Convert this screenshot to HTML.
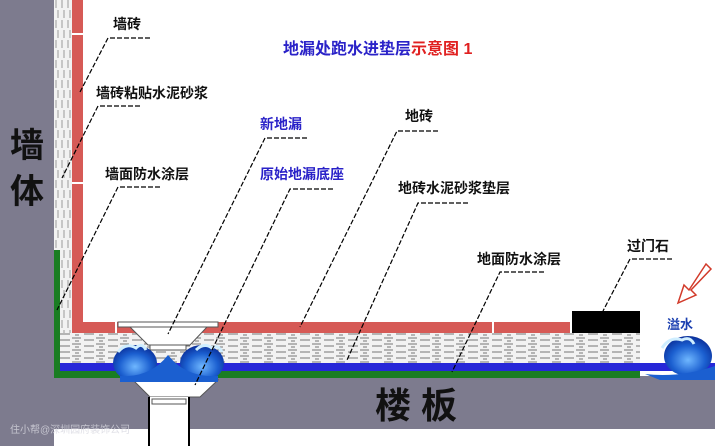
<!DOCTYPE html>
<html><head><meta charset="utf-8"><style>
html,body{margin:0;padding:0;background:#fff;}
svg{display:block}
text{font-family:"Liberation Sans","Noto Sans CJK SC",sans-serif;}
</style></head><body>
<svg width="715" height="446" viewBox="0 0 715 446" xmlns="http://www.w3.org/2000/svg">
<defs>
<pattern id="mort" width="24" height="6" patternUnits="userSpaceOnUse">
<rect width="24" height="6" fill="#f2f2f2"/>
<path d="M0 2 H9 M12 4 H22 M3 5 H7" stroke="#777" stroke-width="1"/>
</pattern>
<pattern id="mortv" width="6" height="20" patternUnits="userSpaceOnUse">
<rect width="6" height="20" fill="#f2f2f2"/>
<path d="M2 0 V8 M4 10 V18" stroke="#999" stroke-width="1"/>
</pattern>
<radialGradient id="wave" cx="0.5" cy="0.6" r="0.6">
<stop offset="0" stop-color="#6fb7ff"/><stop offset="0.6" stop-color="#1b5fd0"/><stop offset="1" stop-color="#0a2f9a"/>
</radialGradient>
</defs>
<rect x="0" y="0" width="54" height="446" fill="#7d7b8e"/>
<rect x="54" y="376" width="661" height="53" fill="#7d7b8e"/>
<rect x="54" y="0" width="18" height="334" fill="url(#mortv)"/>
<rect x="72" y="0" width="11" height="334" fill="#d65a56"/>
<path d="M72 34 H83 M72 183 H83" stroke="#fff" stroke-width="2"/>
<rect x="72" y="322" width="498" height="11" fill="#d65a56"/>
<path d="M116 322 V333 M493 322 V333" stroke="#fff" stroke-width="2"/>
<rect x="59" y="333" width="581" height="30" fill="url(#mort)"/>
<rect x="572" y="311" width="68" height="22" fill="#000"/>
<rect x="59" y="363" width="656" height="8" fill="#2727d8"/>
<rect x="54" y="250" width="6" height="128" fill="#1a7d22"/>
<rect x="54" y="371" width="586" height="7" fill="#1a7d22"/>
<rect x="118" y="322" width="100" height="5" fill="#fff" stroke="#555" stroke-width="1"/>
<polygon points="130,327 207,327 190,345 148,345" fill="#fff" stroke="#555"/>
<rect x="150" y="345" width="36" height="5" fill="#fff" stroke="#555"/>
<polygon points="133,380 218,380 200,397 150,397" fill="#fff" stroke="#555"/>
<rect x="148" y="397" width="42" height="49" fill="#fff"/>
<path d="M149 397 V446 M189 397 V446" stroke="#000" stroke-width="2"/>
<rect x="152" y="399" width="34" height="5" fill="#fff" stroke="#555"/>
<ellipse cx="135" cy="363" rx="22" ry="18" fill="url(#wave)"/>
<ellipse cx="202" cy="363" rx="22" ry="18" fill="url(#wave)"/>
<path d="M120 376 Q150 378 168 355 Q186 378 218 376 L218 382 L120 382 Z" fill="#1b5fd0"/>
<path d="M118 352 q8 -10 18 -4 q6 -6 10 2 M196 350 q8 -8 16 -2 q6 -4 10 4" stroke="#cfeeff" stroke-width="3" fill="none"/>
<ellipse cx="688" cy="356" rx="24" ry="20" fill="url(#wave)"/>
<path d="M662 348 q8 -12 20 -8 q8 -4 12 4" stroke="#cfeeff" stroke-width="3" fill="none"/>
<path d="M645 374 Q680 378 715 366 V380 H660 Z" fill="#1b5fd0"/>
<polygon points="706,264 711,269 691,290 696,295 678,303 684,285 689,290 " fill="#fff" stroke="#d23a2a" stroke-width="1.5"/>
<text x="667" y="329" font-size="13" font-weight="bold" fill="#1a3fb0">溢水</text>
<g stroke="#000" stroke-width="1.2" fill="none" stroke-dasharray="5,2">
<path d="M150 38 H108 L80 92"/>
<path d="M140 106 H98 L62 178"/>
<path d="M160 187 H118 L57 310"/>
<path d="M307 138 H265 L168 334"/>
<path d="M333 189 H290 L195 385"/>
<path d="M438 131 H397 L300 327"/>
<path d="M468 203 H418 L347 360"/>
<path d="M544 272 H500 L452 372"/>
<path d="M672 259 H630 L603 311"/>
</g>
<g font-size="14" fill="#111" font-weight="bold">
<text x="113" y="29">墙砖</text>
<text x="96" y="98">墙砖粘贴水泥砂浆</text>
<text x="105" y="179">墙面防水涂层</text>
<text x="405" y="121">地砖</text>
<text x="398" y="193">地砖水泥砂浆垫层</text>
<text x="477" y="264">地面防水涂层</text>
<text x="627" y="251">过门石</text>
</g>
<g font-size="14" fill="#2a22c8" font-weight="bold">
<text x="260" y="129">新地漏</text>
<text x="260" y="179">原始地漏底座</text>
</g>
<text x="283" y="54" font-size="16" font-weight="bold" fill="#2a22c8">地漏处跑水进垫层<tspan fill="#e02020">示意图 1</tspan></text>
<text x="10" y="157" font-size="34" font-weight="bold" fill="#111">墙</text>
<text x="10" y="203" font-size="34" font-weight="bold" fill="#111">体</text>
<text x="375" y="418" font-size="36" font-weight="bold" fill="#111">楼 板</text>
<text x="10" y="433" font-size="10" fill="#d8d8e0" opacity="0.8">住小帮@深圳园府装饰公司</text>
</svg>
</body></html>
